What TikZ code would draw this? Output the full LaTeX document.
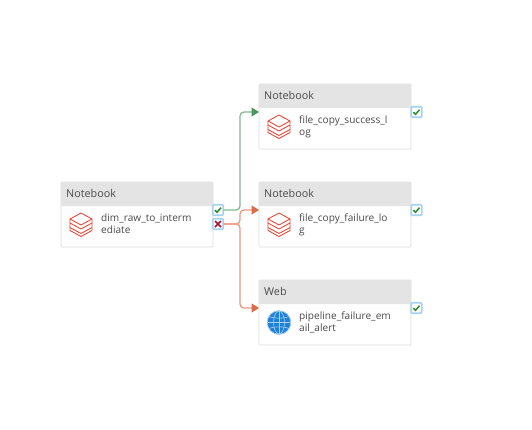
\documentclass[tikz,border=0pt]{standalone}
\usepackage{fontspec}
\setmainfont{Open Sans}
\usetikzlibrary{arrows.meta}
\definecolor{cardline}{HTML}{DCDCDC}
\definecolor{headfill}{HTML}{E4E4E4}
\definecolor{txt}{HTML}{4A4A4A}
\definecolor{brick}{HTML}{E8483A}
\definecolor{okline}{HTML}{84B891}
\definecolor{oktip}{HTML}{4B9560}
\definecolor{badline}{HTML}{EB9A80}
\definecolor{badtip}{HTML}{DE6A48}
\definecolor{okmark}{HTML}{2E8B2E}
\definecolor{badmark}{HTML}{B01030}
\definecolor{glow}{HTML}{A6D2F0}
\definecolor{globeblue}{HTML}{1F80D8}
\definecolor{globeline}{HTML}{A9D2F3}
\tikzset{
  x=1pt,y=-1pt,
  card/.style={draw=cardline,line width=0.7pt,fill=white,rounded corners=1pt,minimum width=152pt,minimum height=65pt,inner sep=0pt,outer sep=0pt},
  headbar/.style={fill=headfill,rounded corners=1pt,minimum width=152pt,minimum height=24pt,inner sep=0pt,outer sep=0pt,anchor=north},
  headtext/.style={font=\fontsize{10.8}{12}\selectfont,text=txt,inner sep=0pt,anchor=west},
  bodytext/.style={font=\fontsize{10.1}{11.7}\selectfont,text=txt,inner sep=0pt,anchor=north west,align=left},
  statusbox/.style={draw=glow,line width=1.6pt,fill=white,rounded corners=1pt,minimum size=10.5pt,inner sep=0pt,outer sep=0pt},
  okconn/.style={draw=okline,line width=1.3pt,rounded corners=4pt,-{Triangle[length=7.5pt,width=9pt,fill=oktip,color=oktip]}},
  badconn/.style={draw=badline,line width=1.3pt,rounded corners=4pt,-{Triangle[length=7.5pt,width=9pt,fill=badtip,color=badtip]}},
  okmarkpath/.style={draw=okmark,line width=1.5pt},
  badmarkpath/.style={draw=badmark,line width=1.6pt},
  brickpath/.style={draw=brick,line width=0.9pt,line join=round},
  okbox/.pic={\node[statusbox] (-box) {};\draw[okmarkpath] (-3,0.2) -- (-1,2.3) -- (3,-2.3);},
  badbox/.pic={\node[statusbox] (-box) {};\draw[badmarkpath] (-3,-3) -- (3,3) (-3,3) -- (3,-3);},
  brickicon/.pic={
    \draw[brickpath] (0,-11.5) -- (11,-5.5) -- (0,0.5) -- (-11,-5.5) -- cycle;
    \draw[brickpath] (-11,-5.5) -- (-11,-1.5) -- (0,4.5) -- (11,-1.5) -- (11,-5.5);
    \draw[brickpath] (-11,-1.5) -- (-11,3) -- (0,9) -- (11,3) -- (11,-1.5);
    \draw[brickpath] (-11,3) -- (-11,6) -- (0,12) -- (11,6) -- (11,3);
  },
  globeicon/.pic={
    \fill[globeblue] (0,0) circle[radius=12];
    \draw[globeline,line width=0.6pt] (0,0) circle[radius=11.7];
    \draw[globeline,line width=0.6pt] (0,-11.4) -- (0,11.4) (-11.4,0) -- (11.4,0);
    \draw[globeline,line width=0.6pt] (0,0) circle[x radius=5.5,y radius=11.4];
    \draw[globeline,line width=0.6pt] (-9.8,-5.8) .. controls (-4,-3.8) and (4,-3.8) .. (9.8,-5.8);
    \draw[globeline,line width=0.6pt] (-9.8,5.8) .. controls (-4,3.8) and (4,3.8) .. (9.8,5.8);
  }
}
\begin{document}
\begin{tikzpicture}
\useasboundingbox (0,0) rectangle (532,429);
\fill[white] (0,0) rectangle (532,429);
\coordinate (busx) at (240,0);
% source
\node[card] (src) at (137,214.5) {};
\node[headbar] (srchead) at (src.north) {};
\node[headtext] (srctitle) at (66,193.5) {Notebook};
\node[bodytext] (srcbody) at (101,213.5) {dim\_raw\_to\_interm\\ediate};
\pic at (81,224.5) {brickicon};
% success
\node[card] (ok) at (335,116.5) {};
\node[headbar] (okhead) at (ok.north) {};
\node[headtext] (oktitle) at (264,95.5) {Notebook};
\node[bodytext] (okbody) at (299,115.5) {file\_copy\_success\_l\\og};
\pic at (279,126.5) {brickicon};
% failure
\node[card] (bad) at (335,214.5) {};
\node[headbar] (badhead) at (bad.north) {};
\node[headtext] (badtitle) at (264,193.5) {Notebook};
\node[bodytext] (badbody) at (299,213.5) {file\_copy\_failure\_lo\\g};
\pic at (279,224.5) {brickicon};
% web
\node[card] (web) at (335,312.5) {};
\node[headbar] (webhead) at (web.north) {};
\node[headtext] (webtitle) at (264,291.5) {Web};
\node[bodytext] (webbody) at (299,311.5) {pipeline\_failure\_em\\ail\_alert};
\pic at (279,322.5) {globeicon};
% status boxes
\pic (sok) at (218,210) {okbox};
\pic (sbad) at (218,224) {badbox};
\pic (okst) at (416.5,112) {okbox};
\pic (badst) at (416.5,210) {okbox};
\pic (webst) at (416.5,308) {okbox};
% connectors
\coordinate (okin) at (259,112);
\coordinate (badin) at (259,210);
\coordinate (webin) at (259,308);
\draw[okconn] (sok-box.east) -- (sok-box.east -| busx) |- (okin);
\draw[badconn] (sbad-box.east) -- (sbad-box.east -| busx) |- (badin);
\draw[badconn] (sbad-box.east) -- (sbad-box.east -| busx) |- (webin);
\end{tikzpicture}
\end{document}
